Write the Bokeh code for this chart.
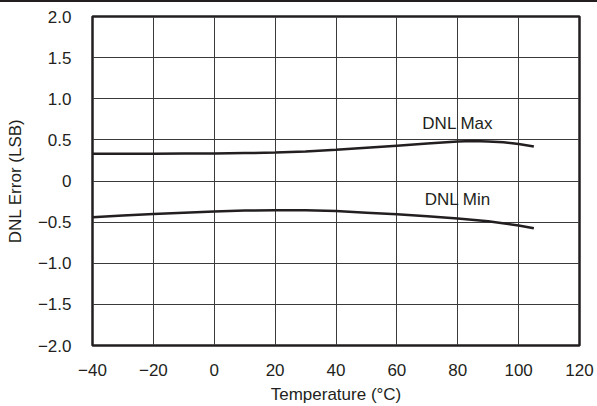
from bokeh.plotting import figure
from bokeh.models import FixedTicker, Label, Range1d, Div
from bokeh.layouts import column
from bokeh.embed import file_html
from bokeh.resources import INLINE

temps = [-40, -30, -20, -10, 0, 10, 20, 30, 40, 50, 60, 70, 80, 85, 90, 95, 100, 105]
dnl_max = [0.33, 0.33, 0.33, 0.335, 0.335, 0.34, 0.345, 0.36, 0.38, 0.405, 0.43, 0.455, 0.48, 0.485, 0.48, 0.47, 0.45, 0.42]
temps_min = [-40, -30, -20, -10, 0, 10, 20, 30, 40, 50, 60, 70, 80, 90, 100, 105]
dnl_min = [-0.44, -0.42, -0.40, -0.385, -0.37, -0.36, -0.355, -0.355, -0.365, -0.385, -0.405, -0.43, -0.455, -0.49, -0.54, -0.575]

x_ticks = [-40, -20, 0, 20, 40, 60, 80, 100, 120]
y_ticks = [-2.0, -1.5, -1.0, -0.5, 0, 0.5, 1.0, 1.5, 2.0]
y_tick_labels = ["\u22122.0", "\u22121.5", "\u22121.0", "\u22120.5", "0", "0.5", "1.0", "1.5", "2.0"]
x_tick_labels = ["\u221240", "\u221220", "0", "20", "40", "60", "80", "100", "120"]

FONT = "Liberation Sans"
FS = "17px"

p = figure(width=597, height=404, output_backend="svg", toolbar_location=None,
           x_range=Range1d(-40, 120), y_range=Range1d(-2, 2),
           min_border_left=92, min_border_right=18, min_border_top=14, min_border_bottom=61)

p.outline_line_color = "#231f20"
p.outline_line_width = 2.5

for ax in (p.xaxis[0], p.yaxis[0]):
    ax.axis_line_color = None
    ax.major_tick_line_color = None
    ax.minor_tick_line_color = None
    ax.major_label_text_font = FONT
    ax.major_label_text_font_size = FS
    ax.major_label_text_color = "#231f20"
    ax.axis_label_text_font = FONT
    ax.axis_label_text_font_size = FS
    ax.axis_label_text_font_style = "normal"
    ax.axis_label_text_color = "#231f20"

p.xaxis.ticker = FixedTicker(ticks=x_ticks)
p.yaxis.ticker = FixedTicker(ticks=y_ticks)
p.xaxis.major_label_overrides = {t: l for t, l in zip(x_ticks, x_tick_labels)}
p.yaxis.major_label_overrides = {t: l for t, l in zip(y_ticks, y_tick_labels)}
p.xaxis.major_label_standoff = 12
p.yaxis.major_label_standoff = 15
p.xaxis.axis_label = "Temperature (\u00b0C)"
p.yaxis.axis_label = "DNL Error (LSB)"
p.xaxis.axis_label_standoff = 6
p.yaxis.axis_label_standoff = 10

p.xgrid.ticker = FixedTicker(ticks=x_ticks)
p.ygrid.ticker = FixedTicker(ticks=y_ticks)
p.grid.grid_line_color = "#3a3a3a"
p.grid.grid_line_width = 1

p.line(temps, dnl_max, line_color="#231f20", line_width=2.5)
p.line(temps_min, dnl_min, line_color="#231f20", line_width=2.5)

p.add_layout(Label(x=80, y=0.7, text="DNL Max", text_align="center", text_baseline="middle",
                   text_font=FONT, text_font_size=FS, text_color="#231f20"))
p.add_layout(Label(x=80, y=-0.23, text="DNL Min", text_align="center", text_baseline="middle",
                   text_font=FONT, text_font_size=FS, text_color="#231f20"))

rule = Div(text="", width=597, height=2, margin=0,
           styles={"background-color": "#231f20"})

layout = column(rule, p, spacing=0, margin=0)

open("out.html", "w").write(file_html(layout, INLINE))
